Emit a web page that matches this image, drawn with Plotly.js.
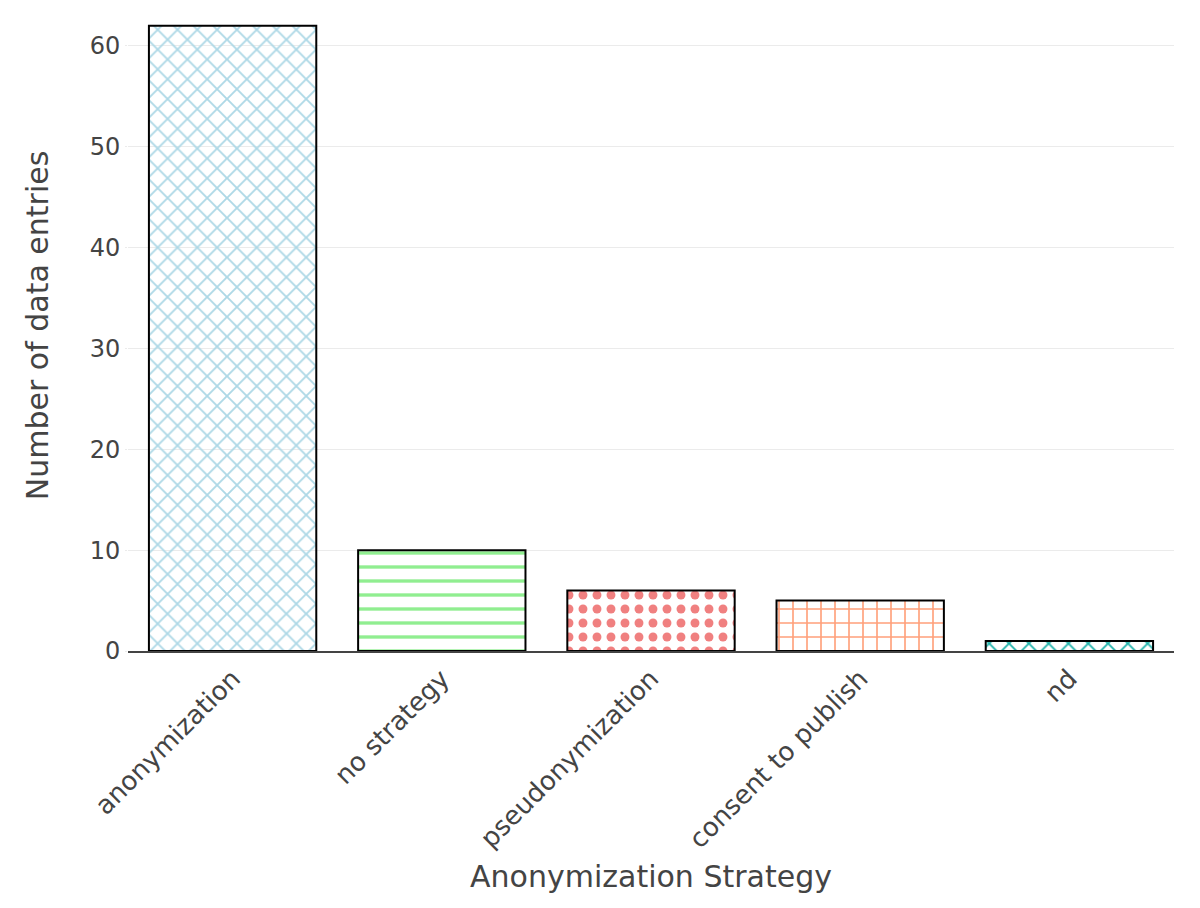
<!DOCTYPE html>
<html>
<head>
<meta charset="utf-8">
<script src="https://cdn.plot.ly/plotly-3.0.1.min.js"></script>
<style>
  html, body { margin: 0; padding: 0; background: #ffffff; }
  #plot { width: 1200px; height: 908px; }
</style>
</head>
<body>
<div id="plot"></div>
<script>
const strategies = ["anonymization", "no strategy", "pseudonymization", "consent to publish", "nd"];
const entryCounts = [62, 10, 6, 5, 1];
const barColors = ["lightblue", "lightgreen", "lightcoral", "lightsalmon", "lightseagreen"];
const barPatterns = ["x", "-", ".", "+", "x"];

const trace = {
  type: "bar",
  x: strategies,
  y: entryCounts,
  marker: {
    color: barColors,
    line: { color: "#000000", width: 2 },
    pattern: { shape: barPatterns, size: 14, solidity: [0.25, 0.24, 0.32, 0.22, 0.25] },
  },
  hoverinfo: "x+y",
};

const layout = {
  width: 1200,
  height: 908,
  paper_bgcolor: "#ffffff",
  plot_bgcolor: "#ffffff",
  font: { family: "DejaVu Sans, Verdana, sans-serif", color: "#444444", size: 24 },
  margin: { l: 128, r: 26, t: 0, b: 257 },
  bargap: 0.2,
  showlegend: false,
  xaxis: {
    title: { text: "Anonymization Strategy", font: { size: 30 }, standoff: 13 },
    tickangle: -45,
    tickfont: { size: 26 },
    showline: true,
    linecolor: "#444444",
    linewidth: 2,
    showgrid: false,
  },
  yaxis: {
    title: { text: "Number of data entries", font: { size: 30 }, standoff: 32 },
    automargin: true,
    range: [0, 64.56],
    dtick: 10,
    tickfont: { size: 24 },
    ticks: "outside",
    ticklen: 2,
    tickcolor: "#ebebeb",
    gridcolor: "#ebebeb",
    zeroline: false,
  },
};

Plotly.newPlot("plot", [trace], layout, { displayModeBar: false, staticPlot: true });
</script>
</body>
</html>
